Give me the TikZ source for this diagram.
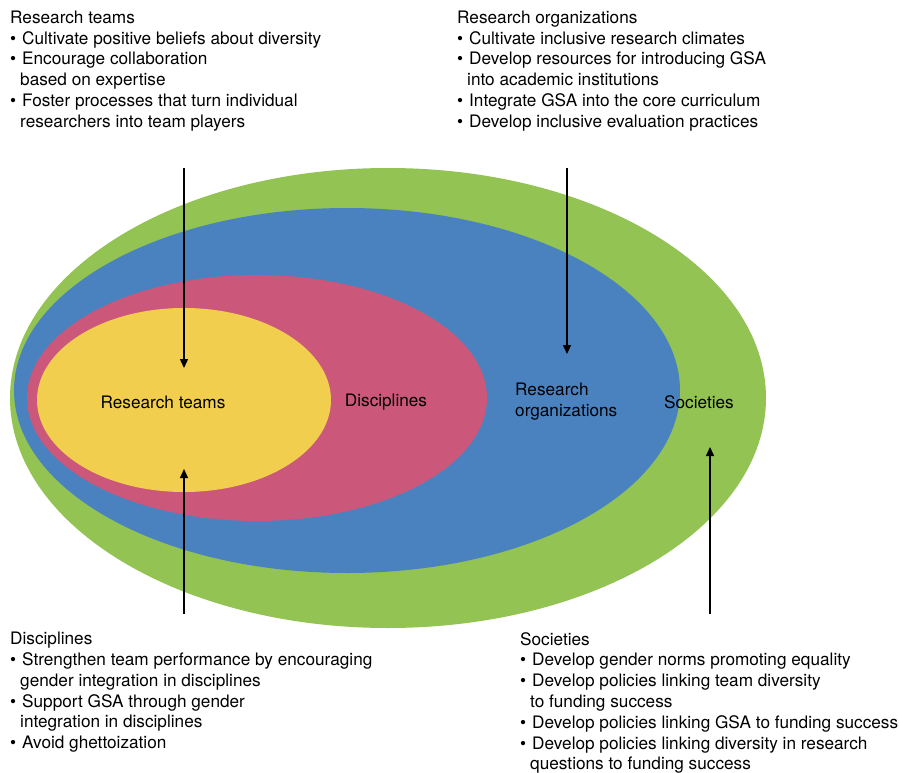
\documentclass[tikz,border=0pt]{standalone}
\usepackage{fontspec}
\setmainfont{TeX Gyre Heros}
\usetikzlibrary{arrows.meta}
\definecolor{cgreen}{HTML}{92C353}
\definecolor{cblue}{HTML}{4A82C0}
\definecolor{cpink}{HTML}{CB587A}
\definecolor{cyellow}{HTML}{F2CE4F}
\newcommand{\bl}{\makebox[12pt][l]{\textbullet}}
\newcommand{\ind}{\hspace*{10pt}}
\tikzset{
  txt/.style={font=\fontsize{17.2}{20.8}\selectfont},
  block/.style={txt, anchor=north west, inner sep=0pt, align=left},
  lab/.style={txt, inner sep=0pt, align=left},
  arr/.style={line width=1.4pt, -{Triangle[length=9pt,width=8pt]}}
}
\begin{document}
\begin{tikzpicture}[x=1pt,y=-1pt]
\useasboundingbox (0,0) rectangle (899,773);
\fill[cgreen] (388,398) ellipse [x radius=378pt, y radius=230pt];
\fill[cblue] (347,390.5) ellipse [x radius=333pt, y radius=182.5pt];
\fill[cpink] (257,398) ellipse [x radius=230pt, y radius=123pt];
\fill[cyellow] (184,400) ellipse [x radius=147pt, y radius=92pt];

\node[lab] (lteams) at (163,402.5) {Research teams};
\node[lab] (ldisc) at (386,402.5) {Disciplines};
\node[lab, anchor=west] (lorg) at (515,401.5) {Research\\organizations};
\node[lab] (lsoc) at (699,402.5) {Societies};

\node[block] (bteams) at (10,10.5) {Research teams\\
\bl Cultivate positive beliefs about diversity\\
\bl Encourage collaboration\\
\ind based on expertise\\
\bl Foster processes that turn individual\\
\ind researchers into team players};

\node[block] (borg) at (457,10.5) {Research organizations\\
\bl Cultivate inclusive research climates\\
\bl Develop resources for introducing GSA\\
\ind into academic institutions\\
\bl Integrate GSA into the core curriculum\\
\bl Develop inclusive evaluation practices};

\node[block] (bdisc) at (10,632) {Disciplines\\
\bl Strengthen team performance by encouraging\\
\ind gender integration in disciplines\\
\bl Support GSA through gender\\
\ind integration in disciplines\\
\bl Avoid ghettoization};

\node[block] (bsoc) at (520,632) {Societies\\
\bl Develop gender norms promoting equality\\
\bl Develop policies linking team diversity\\
\ind to funding success\\
\bl Develop policies linking GSA to funding success\\
\bl Develop policies linking diversity in research\\
\ind questions to funding success};

\coordinate (a1s) at (184,168);
\coordinate (a1e) at (184,368);
\coordinate (a2s) at (567,168);
\coordinate (a2e) at (567,354);
\coordinate (a3s) at (184,614);
\coordinate (a3e) at (184,469);
\coordinate (a4s) at (710,614);
\coordinate (a4e) at (710,447);
\draw[arr] (a1s) -- (a1e);
\draw[arr] (a2s) -- (a2e);
\draw[arr] (a3s) -- (a3e);
\draw[arr] (a4s) -- (a4e);
\end{tikzpicture}
\end{document}
